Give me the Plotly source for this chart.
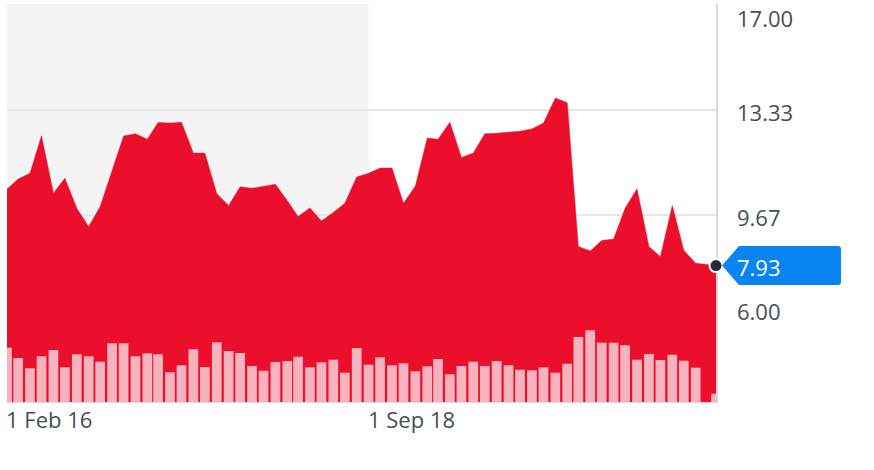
import plotly.graph_objects as go
import pandas as pd

# ---- data ----
months = pd.date_range("2016-02-01", "2021-01-01", freq="MS").strftime("%Y-%m-%d").tolist()
last_date = "2021-02-23"
dates = months + [last_date]

prices = [10.58, 10.93, 11.13, 12.43, 10.44, 10.96, 9.92, 9.28, 9.98, 11.19,
          12.42, 12.50, 12.31, 12.89, 12.87, 12.90, 11.83, 11.83, 10.42, 10.01,
          10.66, 10.61, 10.67, 10.75, 10.18, 9.63, 9.93, 9.48, 9.77, 10.09,
          11.00, 11.13, 11.31, 11.31, 10.09, 10.69, 12.35, 12.31, 12.90, 11.68,
          11.83, 12.50, 12.52, 12.56, 12.59, 12.67, 12.87, 13.74, 13.58, 8.59,
          8.44, 8.80, 8.85, 9.92, 10.59, 8.59, 8.24, 10.01, 8.46, 8.01,
          7.93]

volumes = [5.43, 4.40, 3.37, 4.57, 5.20, 3.47, 4.77, 4.57, 4.03, 5.87,
           5.87, 4.57, 4.87, 4.77, 2.97, 3.67, 5.27, 3.50, 5.97, 5.10,
           4.90, 3.60, 3.13, 4.00, 4.10, 4.53, 3.47, 3.97, 4.23, 2.93,
           5.40, 3.73, 4.47, 3.67, 3.87, 3.07, 3.57, 4.30, 2.77, 3.60,
           4.03, 3.60, 4.10, 3.67, 3.23, 3.17, 3.47, 2.93, 3.83, 6.50,
           7.17, 5.93, 5.93, 5.67, 4.23, 4.80, 4.20, 4.73, 4.13, 3.43,
           0.83]

ytick_vals = [17.00, 13.33, 9.67, 6.00]
ytick_text = ["17.00", "13.33", "9.67", "6.00"]
ytick_shift = [-14, -2, -2, 10]
xtick_dates = ["2016-02-01", "2018-09-01"]
xtick_text = ["1 Feb 16", "1 Sep 18"]
highlight_end = "2018-09-01"

RED = "#eb0f2b"
PINK = "#f7b3bd"
BLUE = "#0a84f0"
TXT = "#464e56"
FONT = "Open Sans"
DAY_MS = 86400000

fig = go.Figure()

fig.add_trace(go.Scatter(
    x=dates, y=prices, mode="lines", fill="tozeroy",
    line=dict(color=RED, width=0.5), fillcolor=RED,
    hoverinfo="skip", showlegend=False, yaxis="y"))

fig.add_trace(go.Bar(
    x=dates, y=volumes, width=[25.3 * DAY_MS] * len(dates),
    marker=dict(color=PINK, line=dict(width=0)),
    hoverinfo="skip", showlegend=False, yaxis="y2"))

fig.add_trace(go.Scatter(
    x=[dates[-1]], y=[prices[-1]], mode="markers",
    marker=dict(size=13, color="#232a31", line=dict(color="white", width=2)),
    cliponaxis=False, hoverinfo="skip", showlegend=False, yaxis="y"))

shapes = [
    dict(type="rect", xref="x", yref="paper", x0=dates[0], x1=highlight_end,
         y0=0, y1=1, fillcolor="#f4f4f4", line=dict(width=0), layer="below"),
    dict(type="path", xref="paper", xsizemode="pixel", xanchor=1,
         yref="y", ysizemode="pixel", yanchor=prices[-1],
         path="M 6,0 L 23,19.5 L 122,19.5 Q 125,19.5 125,16.5 L 125,-16.5 "
              "Q 125,-19.5 122,-19.5 L 23,-19.5 Z",
         fillcolor=BLUE, line=dict(width=0), layer="above"),
]

annotations = []
for v, t, s in zip(ytick_vals, ytick_text, ytick_shift):
    annotations.append(dict(xref="paper", yref="y", x=1, y=v, text=t,
                            xanchor="left", yanchor="middle", xshift=19, yshift=s,
                            showarrow=False, font=dict(family=FONT, size=22, color=TXT)))
for d, t in zip(xtick_dates, xtick_text):
    annotations.append(dict(xref="x", yref="paper", x=d, y=0, text=t,
                            xanchor="left", yanchor="top", xshift=-3, yshift=0,
                            showarrow=False, font=dict(family=FONT, size=22, color=TXT)))
annotations.append(dict(xref="paper", yref="y", x=1, y=prices[-1], text=f"{prices[-1]:.2f}",
                        xanchor="left", yanchor="middle", xshift=19, yshift=-1,
                        showarrow=False, font=dict(family=FONT, size=22, color="white")))

fig.update_layout(
    width=874, height=470,
    margin=dict(l=7, r=158, t=4, b=68),
    paper_bgcolor="white", plot_bgcolor="white",
    shapes=shapes, annotations=annotations,
    xaxis=dict(type="date", range=[dates[0], last_date], showgrid=False,
               showticklabels=False, ticks="", zeroline=False,
               showline=True, linecolor="#d8dce3", linewidth=1,
               layer="below traces"),
    yaxis=dict(range=[3.2, 17.0], side="right", tickvals=ytick_vals,
               showticklabels=False, ticks="", showgrid=True,
               gridcolor="#e6e6e6", gridwidth=1.5, zeroline=False,
               showline=True, linecolor="#d3d8e2", linewidth=2,
               layer="below traces"),
    yaxis2=dict(range=[0, 39.8], overlaying="y", visible=False,
                showgrid=False, zeroline=False),
    barmode="overlay",
    showlegend=False,
)

fig.write_html("out.html", config={"displayModeBar": False},
               post_script="document.body.style.margin='0';")
